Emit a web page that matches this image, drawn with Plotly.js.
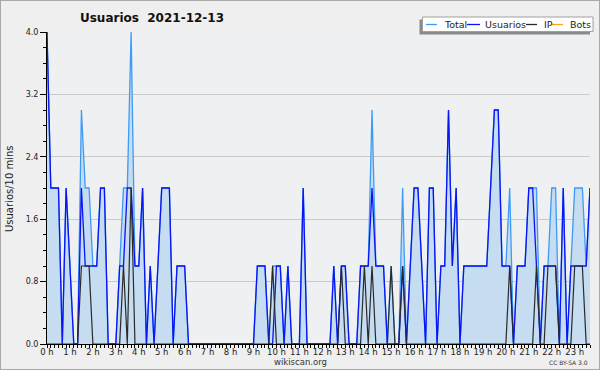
<!DOCTYPE html>
<html>
<head>
<meta charset="utf-8">
<script src="https://cdn.plot.ly/plotly-3.0.1.min.js"></script>
<style>
html,body{margin:0;padding:0;background:#ffffff;}
#wrap{width:600px;height:370px;box-sizing:border-box;border:1px solid #a8a8a8;background:#efefef;}
#chart{width:598px;height:368px;}
</style>
</head>
<body>
<div id="wrap"><div id="chart"></div></div>
<script>
// 10-minute slots of 2021-12-13
const hourLabels = ["0 h","1 h","2 h","3 h","4 h","5 h","6 h","7 h","8 h","9 h","10 h","11 h",
  "12 h","13 h","14 h","15 h","16 h","17 h","18 h","19 h","20 h","21 h","22 h","23 h"];

const total = [
4,2,2,2,0,2,1,0,0,3,
2,2,1,1,2,2,0,0,0,1,
2,2,4,1,1,2,0,1,0,1,
2,2,2,0,1,1,1,0,0,0,
0,0,0,0,0,0,0,0,0,0,
0,0,0,0,0,1,1,1,0,1,
1,1,0,1,0,0,0,2,0,0,
0,0,0,0,0,1,0,1,1,0,
0,0,1,1,1,3,1,1,1,0,
1,0,0,2,0,1,2,2,1,0,
2,2,0,1,1,3,1,2,0,1,
1,1,1,1,1,1,2,3,3,1,
1,2,0,1,1,1,2,2,2,0,
1,1,2,2,0,2,0,1,2,2,
2,1,2];

const usuarios = [
4,2,2,2,0,2,1,0,0,2,
1,1,1,1,2,2,0,0,0,1,
1,2,2,1,1,2,0,1,0,1,
2,2,2,0,1,1,1,0,0,0,
0,0,0,0,0,0,0,0,0,0,
0,0,0,0,0,1,1,1,0,0,
1,1,0,1,0,0,0,2,0,0,
0,0,0,0,0,1,0,1,1,0,
0,0,1,1,1,2,1,1,1,0,
0,0,0,1,0,1,2,2,1,0,
2,2,0,1,1,3,1,2,0,1,
1,1,1,1,1,1,2,3,3,1,
1,1,0,1,1,1,2,2,1,0,
1,1,1,1,0,2,0,1,1,1,
1,1,2];

const ip = [
0,0,0,0,0,0,0,0,0,1,
1,1,0,0,0,0,0,0,0,0,
1,0,2,0,0,0,0,0,0,0,
0,0,0,0,0,0,0,0,0,0,
0,0,0,0,0,0,0,0,0,0,
0,0,0,0,0,0,0,0,0,1,
0,0,0,0,0,0,0,0,0,0,
0,0,0,0,0,0,0,1,0,0,
0,0,0,1,0,1,0,0,0,0,
1,0,0,1,0,0,0,0,0,0,
0,0,0,0,0,0,0,0,0,0,
0,0,0,0,0,0,0,0,0,0,
0,1,0,0,0,0,0,0,1,0,
0,1,1,1,0,0,0,0,1,1,
1,0,0];

const bots = [
0,0,0,0,0,0,0,0,0,0,
0,0,0,0,0,0,0,0,0,0,
0,0,0,0,0,0,0,0,0,0,
0,0,0,0,0,0,0,0,0,0,
0,0,0,0,0,0,0,0,0,0,
0,0,0,0,0,0,0,0,0,0,
0,0,0,0,0,0,0,0,0,0,
0,0,0,0,0,0,0,0,0,0,
0,0,0,0,0,0,0,0,0,0,
0,0,0,0,0,0,0,0,0,0,
0,0,0,0,0,0,0,0,0,0,
0,0,0,0,0,0,0,0,0,0,
0,0,0,0,0,0,0,0,0,0,
0,0,0,0,0,0,0,0,0,0,
0,0,0];

const yTickVals = [0, 0.8, 1.6, 2.4, 3.2, 4.0];
const yTickText = ["0.0","0.8","1.6","2.4","3.2","4.0"];

const slots = total.map((_, i) => i);
const hourVals = hourLabels.map((_, i) => i * 6);

const colors = {total:'#3d9bf5', usuarios:'#0a14f5', ip:'#2a2a2a', bots:'#ffa31a', fill:'#c6dcf0'};
const FONT = 'DejaVu Sans, Verdana, sans-serif';

// image-pixel to paper coordinates (plot area: x 47..590, y 32..344)
const px = X => (X - 47) / 543;
const py = Y => (344 - Y) / 312;

const traces = [
  {x: slots, y: bots, type:'scatter', mode:'lines', name:'Bots', line:{color:colors.bots, width:1.2}, hoverinfo:'skip'},
  {x: slots, y: total, type:'scatter', mode:'lines', name:'Total', fill:'tozeroy', fillcolor:colors.fill,
   line:{color:colors.total, width:1.3}},
  {x: slots, y: usuarios, type:'scatter', mode:'lines', name:'Usuarios', line:{color:colors.usuarios, width:1.3}},
  {x: slots, y: ip, type:'scatter', mode:'lines', name:'IP', line:{color:colors.ip, width:1.2}}
];

const legendItems = [
  {label:'Total', color:colors.total, lx0:426, lx1:437, tx:442},
  {label:'Usuarios', color:colors.usuarios, lx0:467, lx1:480, tx:483},
  {label:'IP', color:colors.ip, lx0:526, lx1:537, tx:542},
  {label:'Bots', color:colors.bots, lx0:552, lx1:563, tx:568}
];

const shapes = [
  {type:'rect', xref:'paper', yref:'paper', x0:px(419.5), x1:px(590), y0:py(19.5), y1:py(34.5),
   fillcolor:'#8a8a8a', line:{width:0}},
  {type:'rect', xref:'paper', yref:'paper', x0:px(422.5), x1:px(593), y0:py(17), y1:py(31.5),
   fillcolor:'#ffffff', line:{color:'#a0a0a0', width:1}}
];
const annotations = [];
legendItems.forEach(it => {
  shapes.push({type:'line', xref:'paper', yref:'paper', x0:px(it.lx0), x1:px(it.lx1), y0:py(24.5), y1:py(24.5),
    line:{color:it.color, width:1.3}});
  annotations.push({xref:'paper', yref:'paper', x:px(it.tx), y:py(24.5), xanchor:'left', yanchor:'middle',
    text:it.label, showarrow:false, font:{family:FONT, size:9.5, color:'#222'}});
});
annotations.push({xref:'paper', yref:'paper', x:px(9), y:py(189), xanchor:'center', yanchor:'middle',
  text:'Usuarios/10 mins', textangle:-90, showarrow:false, font:{family:FONT, size:10, color:'#222'}});
annotations.push({xref:'paper', yref:'paper', x:px(300), y:py(362), xanchor:'center', yanchor:'middle',
  text:'wikiscan.org', showarrow:false, font:{family:FONT, size:8.5, color:'#333'}});
annotations.push({xref:'paper', yref:'paper', x:px(590), y:py(362), xanchor:'right', yanchor:'middle',
  text:'CC BY-SA 3.0', showarrow:false, font:{family:FONT, size:6, color:'#333'}});

const layout = {
  width:598, height:368,
  margin:{l:46, r:9, t:31, b:25, pad:0},
  paper_bgcolor:'#efefef', plot_bgcolor:'#eff0f2',
  showlegend:false,
  title:{text:'<b>Usuarios&nbsp; 2021-12-13</b>', font:{family:FONT, size:12, color:'#111'},
    xref:'container', yref:'container', x:151/598, xanchor:'center', y:1-17/368, yanchor:'middle'},
  xaxis:{range:[0,142], tickmode:'array', tickvals:hourVals, ticktext:hourLabels,
    showline:true, linecolor:'#000', linewidth:1, ticks:'outside', ticklen:3, tickcolor:'#000', tickwidth:1,
    ticklabelstandoff:-3,
    tickfont:{family:FONT, size:8.5, color:'#222'}, showgrid:false, zeroline:false,
    minor:{tickmode:'linear', tick0:0, dtick:1, ticks:'outside', ticklen:3, tickcolor:'#000', showgrid:false}},
  yaxis:{range:[0,4], tickmode:'array', tickvals:yTickVals, ticktext:yTickText,
    showline:true, linecolor:'#000', linewidth:1, ticks:'outside', ticklen:6, tickcolor:'#000',
    tickfont:{family:FONT, size:8, color:'#222'}, showgrid:true, gridcolor:'#cacaca', gridwidth:1, zeroline:false,
    minor:{tickmode:'linear', tick0:0, dtick:0.2, ticks:'outside', ticklen:3, tickcolor:'#000', showgrid:false}},
  shapes:shapes,
  annotations:annotations
};

Plotly.newPlot('chart', traces, layout, {staticPlot:true, displayModeBar:false});
</script>
</body>
</html>
